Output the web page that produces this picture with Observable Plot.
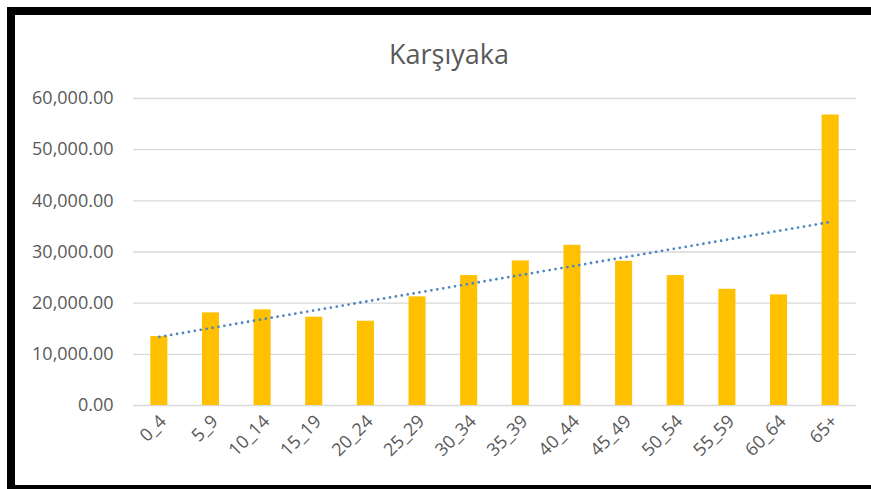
<!DOCTYPE html>
<html>
<head>
<meta charset="utf-8">
<script src="https://cdn.jsdelivr.net/npm/d3@7"></script>
<script src="https://cdn.jsdelivr.net/npm/@observablehq/plot@0.6"></script>
<style>
  html, body { margin: 0; padding: 0; background: #fff; }
  #wrap { position: relative; width: 871px; height: 489px; overflow: hidden; background: #fff; font-family: "Open Sans", sans-serif; }
  .bd { position: absolute; background: #000; }
  #title { position: absolute; left: 0; width: 898px; top: 37px; text-align: center; font-size: 27px; color: #595959; line-height: 34px; }
  #chart { position: absolute; left: 0; top: 0; }
</style>
</head>
<body>
<div id="wrap">
  <div id="chart"></div>
  <div id="title">Karşıyaka</div>
  <div class="bd" style="left:7px; top:7px; width:864px; height:8px;"></div>
  <div class="bd" style="left:7px; top:7px; width:8px; height:482px;"></div>
  <div class="bd" style="left:7px; top:485px; width:864px; height:4px;"></div>
</div>
<script>
const categories = ["0_4","5_9","10_14","15_19","20_24","25_29","30_34","35_39","40_44","45_49","50_54","55_59","60_64","65+"];
const population = [13480, 18100, 18700, 17250, 16470, 21230, 25390, 28260, 31310, 28180, 25390, 22710, 21620, 56780];
const yTicks = [0, 10000, 20000, 30000, 40000, 50000, 60000];

const data = categories.map((c, i) => ({category: c, value: population[i], idx: i + 1}));

// linear trendline (least squares over category index)
const mx = d3.mean(data, d => d.idx);
const my = d3.mean(data, d => d.value);
const slope = d3.sum(data, d => (d.idx - mx) * (d.value - my)) / d3.sum(data, d => (d.idx - mx) ** 2);
const intercept = my - slope * mx;
const trend = data.map(d => ({category: d.category, value: intercept + slope * d.idx}));

const chart = Plot.plot({
  width: 871,
  height: 489,
  marginTop: 98,
  marginBottom: 84,
  marginLeft: 133,
  marginRight: 15,
  style: {fontFamily: "Open Sans, sans-serif", fontSize: "18px", color: "#595959", background: "transparent"},
  x: {type: "band", domain: categories, paddingInner: 0.67, paddingOuter: 0.335, round: false, label: null},
  y: {domain: [0, 60000], label: null},
  marks: [
    Plot.gridY(yTicks, {stroke: "#d9d9d9", strokeOpacity: 1, strokeWidth: 1.3}),
    Plot.barY(data, {x: "category", y: "value", fill: "#FFC000"}),
    Plot.line(trend, {x: "category", y: "value", stroke: "#4E86C2", strokeWidth: 2.8, strokeDasharray: "0 6", strokeLinecap: "round"}),
    Plot.axisY(yTicks, {tickSize: 0, tickPadding: 20, tickFormat: d3.format(",.2f"), fontSize: 18, fill: "#595959"}),
    Plot.axisX({tickSize: 0, tickRotate: -45, tickPadding: 8, dx: 4, dy: 5, fontSize: 18, fill: "#595959"})
  ]
});
document.getElementById("chart").appendChild(chart);
</script>
</body>
</html>
